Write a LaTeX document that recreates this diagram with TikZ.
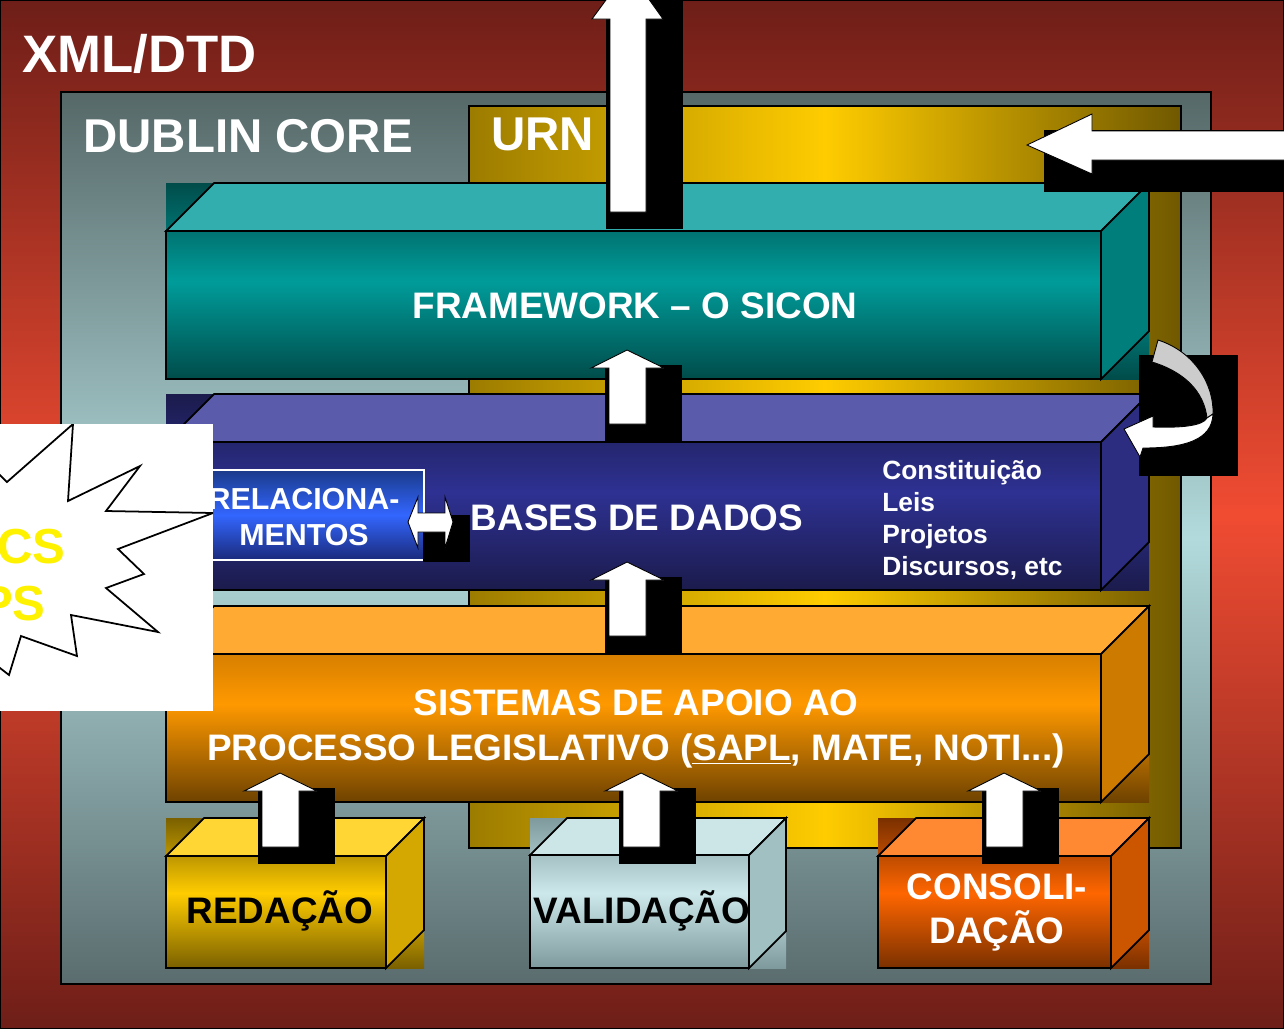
\documentclass[tikz,border=0pt]{standalone}
\usepackage{fontspec}
\setmainfont{Liberation Sans}
\usetikzlibrary{shadings}

\definecolor{redtop}{HTML}{6E1E18}
\definecolor{redmid}{HTML}{F04C32}
\definecolor{dctop}{HTML}{566868}
\definecolor{dcmid}{HTML}{B2DADC}
\definecolor{dcbot}{HTML}{5A6C6E}
\definecolor{urnleft}{HTML}{9C7C00}
\definecolor{urnmid}{HTML}{FFCC00}
\definecolor{urnright}{HTML}{705800}
\definecolor{fwdark}{HTML}{004C4A}
\definecolor{fwmid}{HTML}{009C9A}
\definecolor{fwtop}{HTML}{33AEAE}
\definecolor{fwside}{HTML}{007E7C}
\definecolor{bddark}{HTML}{1B1B4C}
\definecolor{bdmid}{HTML}{2E3192}
\definecolor{bdtop}{HTML}{5B5BAB}
\definecolor{bdside}{HTML}{2C2C80}
\definecolor{sadark}{HTML}{B06600}
\definecolor{samid}{HTML}{FF9900}
\definecolor{sabot}{HTML}{6E4200}
\definecolor{satop}{HTML}{FFAA33}
\definecolor{saside}{HTML}{CC7A00}
\definecolor{rddark}{HTML}{7A6000}
\definecolor{rdmid}{HTML}{FFCC00}
\definecolor{rdtop}{HTML}{FFD633}
\definecolor{rdside}{HTML}{D4A800}
\definecolor{vddark}{HTML}{7E9A9C}
\definecolor{vdmid}{HTML}{CCE8EA}
\definecolor{vdtop}{HTML}{CCE6E8}
\definecolor{vdside}{HTML}{A0C0C2}
\definecolor{cddark}{HTML}{7A3000}
\definecolor{cdmid}{HTML}{FF6600}
\definecolor{cdtop}{HTML}{FF8833}
\definecolor{cdside}{HTML}{CC5500}
\definecolor{reltop}{HTML}{1A3A8A}
\definecolor{relmid}{HTML}{3366FF}
\definecolor{relbot}{HTML}{1A2A7A}
\definecolor{arcgray}{HTML}{CCCCCC}

% x0, y0, x1, y1, depth, shading, top face, side face
\newcommand{\cubebox}[8]{%
  \path[#6] (#1,#2) rectangle (#3,#4);
  \draw[edge,fill=#7] (#1,#2+#5) -- (#1+#5,#2) -- (#3,#2) -- (#3-#5,#2+#5) -- cycle;
  \draw[edge,fill=#8] (#3-#5,#2+#5) -- (#3,#2) -- (#3,#4-#5) -- (#3-#5,#4) -- cycle;
  \draw[edge] (#1,#2+#5) rectangle (#3-#5,#4);
}
% shaft left, tip
\newcommand{\blkup}[2]{%
  \fill[black] (#1-4,#2+15) rectangle (#1+73,#2+91);
  \draw[blk] (#1,#2+74) -- (#1,#2+18) -- (#1-18,#2+18) -- (#1+18,#2)
    -- (#1+55,#2+18) -- (#1+37,#2+18) -- (#1+37,#2+74) -- cycle;
}

\begin{document}
\begin{tikzpicture}[x=0.02cm, y=-0.02cm,
    edge/.style={draw=black, line width=1pt},
    blk/.style={fill=white, draw=black, line width=0.5pt},
    lbl/.style={inner sep=0pt, text=white, font=\bfseries\fontsize{21}{25.6}\selectfont},
    darklbl/.style={lbl, text=black},
    title/.style={inner sep=0pt, text=white, font=\bfseries\fontsize{27}{32}\selectfont},
    fwshade/.style={top color=fwdark, bottom color=fwdark, middle color=fwmid},
    bdshade/.style={top color=bddark, bottom color=bddark, middle color=bdmid},
    sashade/.style={top color=sadark, bottom color=sabot, middle color=samid},
    rdshade/.style={top color=rddark, bottom color=rddark, middle color=rdmid},
    vdshade/.style={top color=vddark, bottom color=vddark, middle color=vdmid},
    cdshade/.style={top color=cddark, bottom color=cddark, middle color=cdmid}]

\useasboundingbox (0,0) rectangle (1284,1029);

% frames
\draw[black, top color=redtop, bottom color=redtop, middle color=redmid] (0.5,0.5) rectangle (1283.5,1028.5);
\draw[edge, top color=dctop, bottom color=dcbot, middle color=dcmid] (61,92) rectangle (1211,984);
\draw[edge, left color=urnleft, right color=urnright, middle color=urnmid] (469,106) rectangle (1181,848);

% layers
\cubebox{166}{183}{1149}{379}{48}{fwshade}{fwtop}{fwside}
\cubebox{166}{394}{1149}{590}{48}{bdshade}{bdtop}{bdside}
\cubebox{166}{606}{1149}{802}{48}{sashade}{satop}{saside}
\cubebox{166}{818}{424}{968}{38}{rdshade}{rdtop}{rdside}
\cubebox{530}{818}{786}{968}{37}{vdshade}{vdtop}{vdside}
\cubebox{878}{818}{1149}{968}{38}{cdshade}{cdtop}{cdside}

\draw[draw=white, line width=1pt, top color=reltop, bottom color=relbot, middle color=relmid] (212,470) rectangle (424,560);

% callout
\begin{scope}
  \clip (0,424) rectangle (213,711);
  \fill[white] (0,424) rectangle (213,711);
  \draw[black, line width=1pt] (-20,462) -- (0,475) -- (7,482) -- (73,424) -- (68,501) -- (140,466)
    -- (106,511) -- (213,513) -- (118,549) -- (144,574) -- (106,588) -- (158,632) -- (71,615)
    -- (77,656) -- (21,636) -- (9,675) -- (0,668) -- (-20,652);
  \node[anchor=base east, inner sep=0pt, text=yellow, font=\bfseries\fontsize{28}{32}\selectfont] (cs) at (66,563) {CS};
  \node[anchor=base east, inner sep=0pt, text=yellow, font=\bfseries\fontsize{28}{32}\selectfont] (ps) at (46,620) {PS};
\end{scope}

% arrows
\fill[black] (606,-5) rectangle (683,229);
\draw[blk] (610,212) -- (610,19) -- (592,19) -- (628,-30) -- (663,19) -- (646,19) -- (646,212) -- cycle;
\blkup{609}{350}
\blkup{609}{562}
\blkup{262}{773}
\blkup{623}{773}
\blkup{986}{773}

\fill[black] (1044,130) rectangle (1290,192);
\draw[blk] (1290,131) -- (1092,131) -- (1092,114) -- (1027,145) -- (1092,174) -- (1092,160) -- (1290,160) -- cycle;

\fill[black] (423,515) rectangle (470,562);
\draw[blk] (408,522) -- (418,497) -- (418,513) -- (445,513) -- (445,497) -- (453,522)
  -- (445,548) -- (445,532) -- (418,532) -- (418,548) -- cycle;

\fill[black] (1139,355) rectangle (1238,476);
\draw[black, line width=0.5pt, fill=arcgray] (1158,340) .. controls (1195,352) and (1214,385) .. (1213,414)
  -- (1207,418) .. controls (1204,392) and (1185,372) .. (1152,362) -- cycle;
\draw[blk] (1213,414) .. controls (1212,440) and (1185,448) .. (1143,448) -- (1140,457) -- (1124,429)
  -- (1153,416) -- (1153,427) .. controls (1180,428) and (1203,426) .. (1207,418) -- cycle;

% labels
\node[title, anchor=base west, font=\bfseries\fontsize{30}{34}\selectfont] (xml) at (22,72) {XML/DTD};
\node[title, anchor=base west] (dublin) at (83,152) {DUBLIN CORE};
\node[title, anchor=base west] (urn) at (491,150) {URN};
\node[lbl, anchor=base] (framework) at (635,318) {FRAMEWORK -- O SICON};
\node[lbl, anchor=base] (bases) at (637,530) {BASES DE DADOS};
\node[lbl, align=center, font=\bfseries\fontsize{17.3}{20.4}\selectfont] (rel) at (304,517) {RELACIONA-\\MENTOS};
\node[lbl, anchor=north west, align=left, font=\bfseries\fontsize{15}{18.2}\selectfont] (docs) at (882,460)
  {Constituição\\Leis\\Projetos\\Discursos, etc};
\node[lbl, align=center] (sapl) at (636,729)
  {SISTEMAS DE APOIO AO\\PROCESSO LEGISLATIVO (\underline{SAPL}, MATE, NOTI...)};
\node[darklbl, anchor=base] (redacao) at (280,923) {REDAÇÃO};
\node[darklbl, anchor=base] (validacao) at (642,923) {VALIDAÇÃO};
\node[lbl, align=center, font=\bfseries\fontsize{21}{25}\selectfont] (consolida) at (997,912) {CONSOLI-\\DAÇÃO};
\end{tikzpicture}
\end{document}
